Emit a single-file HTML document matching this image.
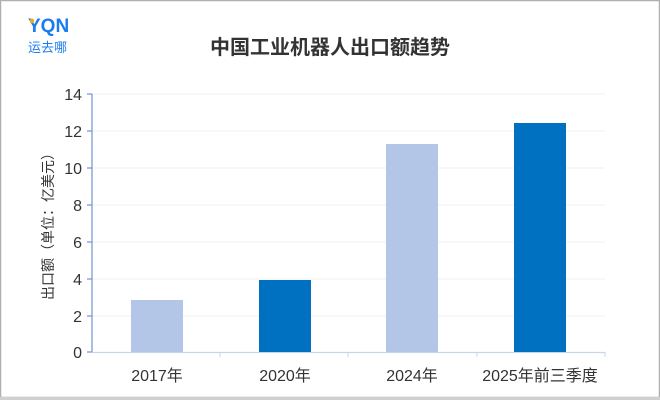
<!DOCTYPE html><html><head><meta charset="utf-8"><style>
body{margin:0;width:660px;height:400px;overflow:hidden;background:#fff;font-family:"Liberation Sans","Noto Sans CJK SC",sans-serif}
</style></head><body>
<svg width="660" height="400" xmlns="http://www.w3.org/2000/svg" font-family="Liberation Sans, Noto Sans CJK SC, sans-serif">
<rect x="0.5" y="0.5" width="659" height="397" fill="#fff" stroke="#b0b0b0" stroke-width="1.5"/>
<rect x="0" y="397" width="660" height="3" fill="#d0d0d0"/>
<text x="28" y="32" font-size="19" font-weight="bold" fill="#1a7cf0">YQN</text>
<circle x="0" cx="32" cy="21" r="2.3" fill="#f5a623"/>
<text x="28" y="52" font-size="13" fill="#1a7cf0">运去哪</text>
<text x="330" y="54" font-size="20" font-weight="bold" fill="#333" text-anchor="middle">中国工业机器人出口额趋势</text>
<g stroke="#f0f0f0" stroke-width="1">
<line x1="92" x2="605" y1="94" y2="94"/><line x1="92" x2="605" y1="131" y2="131"/><line x1="92" x2="605" y1="168" y2="168"/><line x1="92" x2="605" y1="205" y2="205"/><line x1="92" x2="605" y1="242" y2="242"/><line x1="92" x2="605" y1="279" y2="279"/><line x1="92" x2="605" y1="316" y2="316"/>
</g>
<g fill="#333" font-size="16" text-anchor="end">
<text x="82" y="100">14</text><text x="82" y="137">12</text><text x="82" y="174">10</text><text x="82" y="211">8</text><text x="82" y="248">6</text><text x="82" y="285">4</text><text x="82" y="322">2</text><text x="82" y="358">0</text>
</g>
<g stroke="#7b9ad6" stroke-width="1.3">
<line x1="92" y1="94" x2="92" y2="352"/>
<line x1="87" y1="94" x2="92" y2="94"/><line x1="87" y1="131" x2="92" y2="131"/><line x1="87" y1="168" x2="92" y2="168"/><line x1="87" y1="205" x2="92" y2="205"/><line x1="87" y1="242" x2="92" y2="242"/><line x1="87" y1="279" x2="92" y2="279"/><line x1="87" y1="316" x2="92" y2="316"/><line x1="87" y1="352" x2="92" y2="352"/>
</g>
<line x1="92" y1="352.5" x2="605" y2="352.5" stroke="#c8d4ec" stroke-width="1.3"/>
<g stroke="#c8d4ec"><line x1="220" y1="352" x2="220" y2="357"/><line x1="348" y1="352" x2="348" y2="357"/><line x1="477" y1="352" x2="477" y2="357"/><line x1="605" y1="352" x2="605" y2="357"/></g>
<rect x="131" y="300" width="52" height="52" fill="#b4c6e7"/>
<rect x="259" y="280" width="52" height="72" fill="#0070c0"/>
<rect x="386" y="144" width="52" height="208" fill="#b4c6e7"/>
<rect x="514" y="123" width="52" height="229" fill="#0070c0"/>
<g fill="#333" font-size="16" text-anchor="middle">
<text x="157" y="381">2017年</text><text x="285" y="381">2020年</text><text x="412" y="381">2024年</text><text x="540" y="381">2025年前三季度</text>
</g>
<text transform="translate(53,223) rotate(-90)" font-size="14" fill="#333" text-anchor="middle">出口额（单位：亿美元）</text>
</svg>
</body></html>
